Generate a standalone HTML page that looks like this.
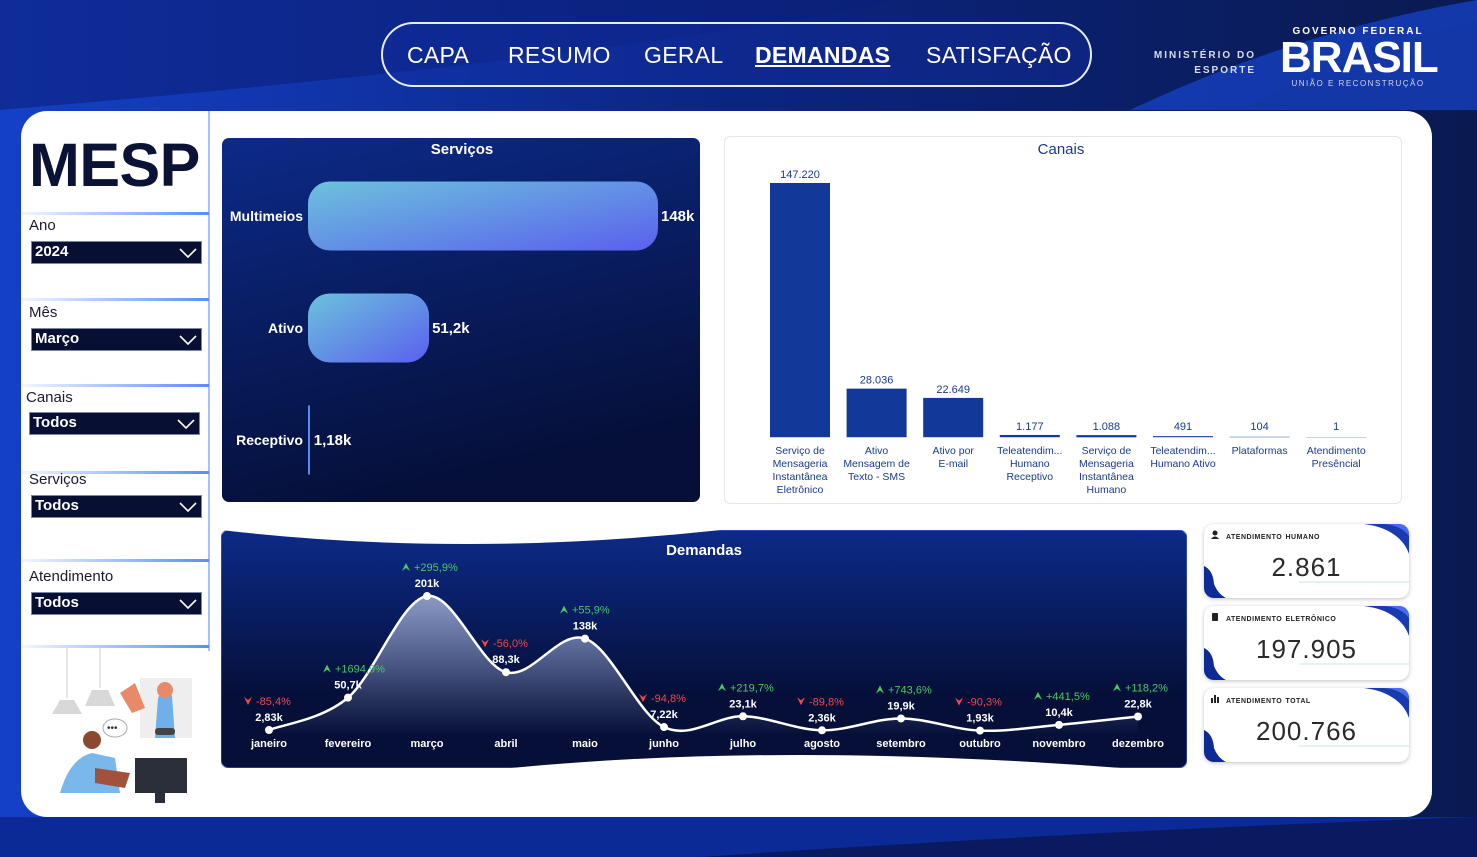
<!DOCTYPE html>
<html><head><meta charset="utf-8">
<style>
*{box-sizing:border-box;margin:0;padding:0}
body{width:1477px;height:857px;overflow:hidden;font-family:"Liberation Sans",sans-serif;position:relative;background:#0a1a4a}
.abs{position:absolute}
#bg{left:0;top:0}
.nav{left:381px;top:22px;width:711px;height:65px;border:2px solid #e8ecff;border-radius:33px;background:rgba(20,50,170,0.35)}
.nav span{position:absolute;top:18px;font-size:23px;color:#fff;letter-spacing:0.3px}
.panel{left:21px;top:111px;width:1411px;height:706px;background:#fff;border-radius:26px}
.flabel{font-size:15px;color:#1a1a2e}
.dd{height:23px;background:#071033;border:1px solid #7a86a8;color:#fff;font-weight:bold;font-size:15px;padding:1px 3px}
.dd svg{position:absolute;right:4px;top:6px}
.sep{height:3px;background:linear-gradient(90deg,rgba(120,160,255,0.1),#5a8cff)}
.card{width:205px;height:74px;background:#fff;border-radius:10px;box-shadow:0 1px 4px rgba(0,0,0,0.25);overflow:hidden}
.card .t{position:absolute;left:22px;top:7px;font-size:10px;letter-spacing:0.5px;color:#222;font-variant:small-caps;text-transform:lowercase;font-weight:bold}
.card .v{position:absolute;left:0;width:205px;text-align:center;top:28px;font-size:26px;color:#2a2a2a;letter-spacing:1px}
</style></head><body>
<svg id="bg" class="abs" width="1477" height="857">
<defs><linearGradient id="bgg" x1="0" y1="0" x2="1" y2="0"><stop offset="0" stop-color="#1440c8"/><stop offset="0.5" stop-color="#0b2480"/><stop offset="1" stop-color="#0a1a50"/></linearGradient></defs>
<rect width="1477" height="857" fill="url(#bgg)"/>
<path d="M0 0 L900 0 Q600 60 0 110Z" fill="#0b1f7a" opacity="0.6"/>
<path d="M1100 0 L1477 0 L1477 110 L1240 110 Q1330 60 1477 20 L1477 0Z" fill="#0a1640"/>
<path d="M1130 110 Q1300 30 1477 0 L1477 110Z" fill="#1540c0" opacity="0.8"/>
<path d="M0 817 L1477 817 L1477 857 L0 857Z" fill="#0c2a96"/>
<path d="M700 857 Q1100 830 1477 817 L1477 857Z" fill="#0a1a60"/>
</svg>
<div class="abs nav">
<span style="left:24px">CAPA</span>
<span style="left:125px">RESUMO</span>
<span style="left:261px">GERAL</span>
<span style="left:372px;font-weight:bold;text-decoration:underline">DEMANDAS</span>
<span style="left:543px">SATISFAÇÃO</span>
</div>
<div class="abs" style="left:1150px;top:48px;color:#d8dcea;font-size:10px;font-weight:bold;letter-spacing:2px;text-align:right;width:106px;line-height:15px">MINISTÉRIO DO<br>ESPORTE</div>
<div class="abs" style="left:1280px;top:26px;width:156px;text-align:center;color:#fff">
<div style="font-size:10px;font-weight:bold;letter-spacing:2px">GOVERNO FEDERAL</div>
<div style="font-size:44px;font-weight:bold;line-height:42px;letter-spacing:-1px;font-family:'Liberation Sans Narrow','Liberation Sans',sans-serif">BRASIL</div>
<div style="font-size:8px;letter-spacing:1.5px;color:#d0d6f0">UNIÃO E RECONSTRUÇÃO</div>
</div>

<div class="abs panel"></div>
<div class="abs" style="left:208px;top:111px;width:2px;height:540px;background:#a8c0ff"></div>
<div class="abs" style="left:29px;top:130px;font-size:61px;font-weight:bold;color:#0a1236;letter-spacing:-0.5px">MESP</div>

<div class="abs sep" style="left:22px;top:212px;width:187px"></div>
<div class="abs flabel" style="left:29px;top:217px">Ano</div>
<div class="abs dd" style="left:31px;top:241px;width:171px">2024<svg width="18" height="10"><path d="M1 1 L9 9 L17 1" stroke="#fff" stroke-width="1.6" fill="none"/></svg></div>
<div class="abs sep" style="left:22px;top:298px;width:187px"></div>
<div class="abs flabel" style="left:29px;top:304px">Mês</div>
<div class="abs dd" style="left:31px;top:328px;width:171px">Março<svg width="18" height="10"><path d="M1 1 L9 9 L17 1" stroke="#fff" stroke-width="1.6" fill="none"/></svg></div>
<div class="abs sep" style="left:22px;top:384px;width:187px"></div>
<div class="abs flabel" style="left:26px;top:389px">Canais</div>
<div class="abs dd" style="left:29px;top:412px;width:171px">Todos<svg width="18" height="10"><path d="M1 1 L9 9 L17 1" stroke="#fff" stroke-width="1.6" fill="none"/></svg></div>
<div class="abs sep" style="left:22px;top:471px;width:187px"></div>
<div class="abs flabel" style="left:29px;top:471px">Serviços</div>
<div class="abs dd" style="left:31px;top:495px;width:171px">Todos<svg width="18" height="10"><path d="M1 1 L9 9 L17 1" stroke="#fff" stroke-width="1.6" fill="none"/></svg></div>
<div class="abs sep" style="left:22px;top:559px;width:187px"></div>
<div class="abs flabel" style="left:29px;top:568px">Atendimento</div>
<div class="abs dd" style="left:31px;top:592px;width:171px">Todos<svg width="18" height="10"><path d="M1 1 L9 9 L17 1" stroke="#fff" stroke-width="1.6" fill="none"/></svg></div>
<div class="abs sep" style="left:22px;top:645px;width:187px"></div>

<svg class="abs" style="left:40px;top:648px" width="170" height="162">
<line x1="27" y1="0" x2="27" y2="50" stroke="#ccc"/><path d="M12 66 L42 66 L34 52 L20 52Z" fill="#d8d8d8"/>
<line x1="60" y1="0" x2="60" y2="40" stroke="#ccc"/><path d="M45 58 L75 58 L68 42 L52 42Z" fill="#d8d8d8"/>
<rect x="100" y="30" width="52" height="60" fill="#eee"/>
<path d="M118 50 Q125 35 132 48 L135 90 L115 90Z" fill="#6fb0e8"/><circle cx="125" cy="42" r="8" fill="#e88a6a"/>
<path d="M80 45 L95 35 L105 60 L92 65Z" fill="#e88a6a"/>
<rect x="115" y="80" width="20" height="7" rx="3" fill="#444"/>
<circle cx="52" cy="92" r="9" fill="#8a4a30"/><path d="M20 145 Q30 110 52 105 L75 110 L80 145Z" fill="#7ab8ec"/>
<path d="M55 120 L90 125 L85 140 L55 135Z" fill="#a0523a"/>
<rect x="95" y="110" width="52" height="35" fill="#2a2f3a"/><rect x="115" y="145" width="10" height="10" fill="#2a2f3a"/>
<ellipse cx="75" cy="80" rx="12" ry="9" fill="#fff" stroke="#aaa"/><text x="67" y="83" font-size="10" fill="#333">•••</text>
</svg>

<!-- Servicos chart -->
<svg class="abs" style="left:222px;top:138px" width="478" height="364" id="servicos">
<defs><linearGradient id="sg" x1="0" y1="0" x2="0.3" y2="1"><stop offset="0" stop-color="#0c2a88"/><stop offset="1" stop-color="#050f38"/></linearGradient>
<linearGradient id="bg2" x1="0" y1="0" x2="1" y2="1"><stop offset="0" stop-color="#6cc2dc"/><stop offset="1" stop-color="#5a60ee"/></linearGradient></defs>
<rect width="478" height="364" rx="7" fill="url(#sg)"/>
<text x="240" y="16" text-anchor="middle" fill="#fff" font-size="15" font-weight="bold">Serviços</text>
</svg>

<!-- Canais chart -->
<svg class="abs" style="left:724px;top:136px" width="678" height="368" id="canais">
<rect x="0.5" y="0.5" width="677" height="367" rx="6" fill="#fff" stroke="#e4e6ee"/>
<text x="337" y="18" text-anchor="middle" fill="#1a3a8a" font-size="15">Canais</text>
</svg>

<!-- Demandas chart -->
<svg class="abs" style="left:221px;top:530px" width="966" height="238" id="demandas">
<defs><linearGradient id="dg" x1="0" y1="0" x2="0" y2="1"><stop offset="0" stop-color="#0c2a88"/><stop offset="0.7" stop-color="#050f38"/><stop offset="1" stop-color="#050f38"/></linearGradient>
<linearGradient id="af" x1="0" y1="0" x2="0" y2="1"><stop offset="0" stop-color="#9aa6cc" stop-opacity="0.9"/><stop offset="1" stop-color="#9aa6cc" stop-opacity="0"/></linearGradient></defs>
<rect width="966" height="238" rx="8" fill="url(#dg)" stroke="#4a6ad0"/>
<path d="M0 0 Q240 28 500 0Z" fill="#fff"/>
<path d="M290 238 Q560 212 900 238Z" fill="#fff"/>
<text x="483" y="25" text-anchor="middle" fill="#fff" font-size="15" font-weight="bold">Demandas</text>
</svg>

<!-- KPI cards -->
<div class="abs card" style="left:1204px;top:524px">
<svg class="abs" style="left:0;top:0" width="205" height="74"><path d="M160 0 L205 0 L205 30 C200 15 185 3 160 0Z" fill="#1a3ab0"/><path d="M180 0 L205 0 L205 12 C200 5 192 1 180 0Z" fill="#4a6af0"/><path d="M0 42 Q9 46 10 60 Q14 70 22 74 L0 74Z" fill="#0d2a96"/><line x1="95" y1="58" x2="205" y2="58" stroke="#c8e8d8"/><circle cx="11" cy="9" r="2.5" fill="#222"/><path d="M7 15 Q11 10 15 15Z" fill="#222"/></svg>
<div class="t">Atendimento Humano</div><div class="v">2.861</div></div>
<div class="abs card" style="left:1204px;top:606px">
<svg class="abs" style="left:0;top:0" width="205" height="74"><path d="M160 0 L205 0 L205 30 C200 15 185 3 160 0Z" fill="#1a3ab0"/><path d="M180 0 L205 0 L205 12 C200 5 192 1 180 0Z" fill="#4a6af0"/><path d="M0 42 Q9 46 10 60 Q14 70 22 74 L0 74Z" fill="#0d2a96"/><line x1="95" y1="58" x2="205" y2="58" stroke="#c8e8d8"/><rect x="8" y="7" width="6" height="8" rx="1" fill="#222"/></svg>
<div class="t">Atendimento Eletrônico</div><div class="v">197.905</div></div>
<div class="abs card" style="left:1204px;top:688px">
<svg class="abs" style="left:0;top:0" width="205" height="74"><path d="M160 0 L205 0 L205 30 C200 15 185 3 160 0Z" fill="#1a3ab0"/><path d="M180 0 L205 0 L205 12 C200 5 192 1 180 0Z" fill="#4a6af0"/><path d="M0 42 Q9 46 10 60 Q14 70 22 74 L0 74Z" fill="#0d2a96"/><line x1="95" y1="58" x2="205" y2="58" stroke="#c8e8d8"/><rect x="7" y="10" width="2" height="5" fill="#222"/><rect x="10" y="7" width="2" height="8" fill="#222"/><rect x="13" y="9" width="2" height="6" fill="#222"/></svg>
<div class="t">Atendimento Total</div><div class="v">200.766</div></div>

<script>
const NS='http://www.w3.org/2000/svg';
function mk(parent,tag,attrs,text){const e=document.createElementNS(NS,tag);for(const k in attrs)e.setAttribute(k,attrs[k]);if(text!==undefined)e.textContent=text;parent.appendChild(e);return e;}

// Serviços data
const servCats=['Multimeios','Ativo','Receptivo'];
const servVals=[148,51.2,1.18];
const servLabels=['148k','51,2k','1,18k'];
// Canais data
const canCats=[['Serviço de','Mensageria','Instantânea','Eletrônico'],['Ativo','Mensagem de','Texto - SMS'],['Ativo por','E-mail'],['Teleatendim...','Humano','Receptivo'],['Serviço de','Mensageria','Instantânea','Humano'],['Teleatendim...','Humano Ativo'],['Plataformas'],['Atendimento','Presêncial']];
const canVals=[147220,28036,22649,1177,1088,491,104,1];
const canLabels=['147.220','28.036','22.649','1.177','1.088','491','104','1'];
// Demandas data
const months=['janeiro','fevereiro','março','abril','maio','junho','julho','agosto','setembro','outubro','novembro','dezembro'];
const demVals=[2.83,50.7,201,88.3,138,7.22,23.1,2.36,19.9,1.93,10.4,22.8];
const demLabels=['2,83k','50,7k','201k','88,3k','138k','7,22k','23,1k','2,36k','19,9k','1,93k','10,4k','22,8k'];
const demPct=['-85,4%','+1694,9%','+295,9%','-56,0%','+55,9%','-94,8%','+219,7%','-89,8%','+743,6%','-90,3%','+441,5%','+118,2%'];

// Serviços
(function(){
 const s=document.getElementById('servicos');
 const x=v=>v*350/148, x0=86;
 const yc=i=>78+i*112, h=69;
 servCats.forEach((c,i)=>{
  const w=Math.max(2,x(servVals[i]));
  const t=mk(s,'text',{x:x0-5,y:yc(i)+5,'text-anchor':'end',fill:'#fff','font-size':14,'font-weight':'bold'},c);
  
  
  const r=w>10?mk(s,'rect',{x:x0,y:yc(i)-h/2,width:w,height:h,rx:Math.min(22,w/3),fill:'url(#bg2)'}):mk(s,'rect',{x:x0,y:yc(i)-h/2,width:2,height:h,fill:'#5a8cf0'});
  
  
  const l=mk(s,'text',{x:x0+w+3,y:yc(i)+5,fill:'#fff','font-size':15,'font-weight':'bold'},servLabels[i]);
  
  
 });
})();

// Canais
(function(){
 const s=document.getElementById('canais');
 const base=301, sc=254/147220, cx=i=>76+i*76.6, bw=60;
 canCats.forEach((c,i)=>{
  const h=canVals[i]*sc;
  mk(s,'line',{x1:cx(i)-bw/2,x2:cx(i)+bw/2,y1:base+0.5,y2:base+0.5,stroke:'#c4d0f0'});
  const r=mk(s,'rect',{x:cx(i)-bw/2,y:base-h,width:bw,height:Math.max(h,canVals[i]>500?2:0),fill:'#12389a'});
  
  
  const v=mk(s,'text',{x:cx(i),y:base-Math.max(h,2)-5,'text-anchor':'middle',fill:'#1a3a8a','font-size':11},canLabels[i]);
  
  
  c.forEach((ln,j)=>{
   const t=mk(s,'text',{x:cx(i),y:base+17+j*13,'text-anchor':'middle',fill:'#1a3a8a','font-size':10.5},ln);
   
   
  });
 });
})();

// Demandas
(function(){
 const s=document.getElementById('demandas');
 const X=i=>48+i*79, Y=v=>201.9-v*0.676;
 const pts=demVals.map((v,i)=>[X(i),Y(v)]);
 let d='M'+pts[0][0]+' '+pts[0][1];
 for(let i=0;i<pts.length-1;i++){
  const p0=pts[Math.max(0,i-1)],p1=pts[i],p2=pts[i+1],p3=pts[Math.min(pts.length-1,i+2)];
  const c1=[p1[0]+(p2[0]-p0[0])/6,p1[1]+(p2[1]-p0[1])/6],c2=[p2[0]-(p3[0]-p1[0])/6,p2[1]-(p3[1]-p1[1])/6];
  d+=' C'+c1.join(' ')+' '+c2.join(' ')+' '+p2.join(' ');
 }
 const area=mk(s,'path',{d:d+' L'+pts[pts.length-1][0]+' 205 L'+pts[0][0]+' 205Z',fill:'url(#af)'});
 
 
 const line=mk(s,'path',{d:d,fill:'none',stroke:'#fff','stroke-width':2.5});
 
 
 pts.forEach((p,i)=>{
  const c=mk(s,'circle',{cx:p[0],cy:p[1],r:4,fill:'#fff'});
  
  
  const v=mk(s,'text',{x:p[0],y:p[1]-9,'text-anchor':'middle',fill:'#fff','font-size':11,'font-weight':'bold'},demLabels[i]);
  
  
  const up=demPct[i][0]==='+';
  const col=up?'#4cc864':'#f04848';
  const py=p[1]-25;
  mk(s,'path',{d:up?`M${p[0]-25} ${py} L${p[0]-21} ${py-8} L${p[0]-17} ${py} L${p[0]-21} ${py-3}Z`:`M${p[0]-25} ${py-8} L${p[0]-21} ${py} L${p[0]-17} ${py-8} L${p[0]-21} ${py-5}Z`,fill:col});
  const t=mk(s,'text',{x:p[0]-13,y:py,fill:col,'font-size':11},demPct[i]);
  
  
  const m=mk(s,'text',{x:p[0],y:217,'text-anchor':'middle',fill:'#fff','font-size':11,'font-weight':'bold'},months[i]);
  
  
 });
})();
</script>
</body></html>
